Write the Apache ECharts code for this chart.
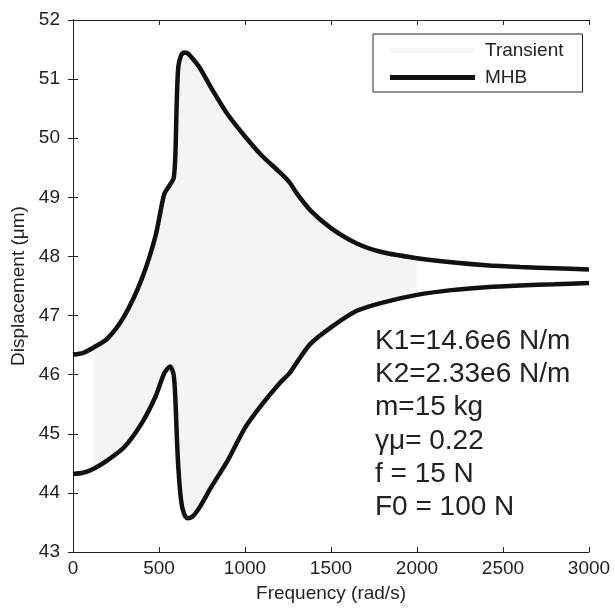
<!DOCTYPE html>
<html><head><meta charset="utf-8">
<script src="https://cdn.jsdelivr.net/npm/echarts@6/dist/echarts.min.js"></script>
<style>html,body{margin:0;padding:0;background:#fff}#c{width:615px;height:611px}</style>
</head><body><div id="c"></div>
<script>
// Frequency (rad/s)
const freq = [0, 60, 120, 200, 300, 400, 480, 530, 565, 585, 595, 603, 612, 628, 645, 665, 695, 735, 800, 900, 1000, 1100, 1200, 1260, 1300, 1380, 1500, 1650, 1800, 2000, 2200, 2400, 2600, 2800, 3000];
// MHB upper envelope (µm)
const mhbUpper = [46.34, 46.37, 46.46, 46.61, 47.0, 47.62, 48.35, 49.05, 49.22, 49.32, 49.7, 50.6, 51.2, 51.4, 51.45, 51.44, 51.35, 51.2, 50.87, 50.4, 50.03, 49.7, 49.43, 49.25, 49.07, 48.78, 48.48, 48.22, 48.07, 47.97, 47.9, 47.85, 47.82, 47.8, 47.78];
// MHB lower envelope (µm)
const mhbLower = [44.32, 44.34, 44.41, 44.55, 44.78, 45.18, 45.63, 46.02, 46.14, 46.0, 45.6, 45.0, 44.45, 43.88, 43.65, 43.57, 43.6, 43.75, 44.08, 44.55, 45.1, 45.5, 45.85, 46.03, 46.2, 46.52, 46.8, 47.08, 47.22, 47.35, 47.43, 47.48, 47.51, 47.53, 47.55];
// Transient sweep range (rad/s)
const transientRange = [120, 2000];
const xTicks = {min: 0, max: 3000, interval: 500};
const yTicks = {min: 43, max: 52, interval: 1};
const paramLines = ['K1=14.6e6 N/m', 'K2=2.33e6 N/m', 'm=15 kg', 'γμ= 0.22', 'f = 15 N', 'F0 = 100 N'];

const FONT = "'Liberation Sans', Arial, sans-serif";
const chart = echarts.init(document.getElementById('c'));
const axisCommon = {
  axisLine: {show: true, lineStyle: {color: '#222', width: 1}},
  axisTick: {show: true, inside: true, length: 5, lineStyle: {color: '#222'}},
  splitLine: {show: false}
};
const upperPts = freq.map((f, i) => [f, mhbUpper[i]]);
const lowerPts = freq.map((f, i) => [f, mhbLower[i]]);
const plain = v => String(v);

chart.setOption({
  animation: false,
  backgroundColor: '#fff',
  grid: {left: 73, right: 26, top: 20, bottom: 59},
  xAxis: [
    Object.assign({type: 'value', position: 'bottom', min: xTicks.min, max: xTicks.max, interval: xTicks.interval,
      name: 'Frequency (rad/s)', nameLocation: 'middle', nameGap: 32,
      nameTextStyle: {fontFamily: FONT, fontSize: 19, color: '#222'},
      axisLabel: {fontFamily: FONT, fontSize: 19, color: '#222', margin: 7, formatter: plain}}, axisCommon),
    Object.assign({type: 'value', position: 'top', min: xTicks.min, max: xTicks.max, interval: xTicks.interval,
      axisLabel: {show: false}}, axisCommon)
  ],
  yAxis: [
    Object.assign({type: 'value', position: 'left', min: yTicks.min, max: yTicks.max, interval: yTicks.interval,
      name: 'Displacement (μm)', nameLocation: 'middle', nameGap: 43,
      nameTextStyle: {fontFamily: FONT, fontSize: 19, color: '#222'},
      axisLabel: {fontFamily: FONT, fontSize: 19, color: '#222', margin: 13, formatter: plain}}, axisCommon),
    Object.assign({type: 'value', position: 'right', min: yTicks.min, max: yTicks.max, interval: yTicks.interval,
      axisLabel: {show: false}}, axisCommon)
  ],
  legend: {
    orient: 'vertical', left: 373, top: 34,
    padding: [7, 19, 5, 17], itemGap: 8, itemWidth: 85, itemHeight: 5,
    borderColor: '#222', borderWidth: 1, backgroundColor: '#fff',
    textStyle: {fontFamily: FONT, fontSize: 19, color: '#222', padding: [0, 0, 0, 5]},
    data: [
      {name: 'Transient', icon: 'rect', itemStyle: {color: '#f6f6f6'}},
      {name: 'MHB', icon: 'rect', itemStyle: {color: '#111'}}
    ]
  },
  series: [
    {
      name: 'Transient', type: 'custom', xAxisIndex: 0, yAxisIndex: 0,
      data: [[transientRange[0], mhbLower[0]]],
      itemStyle: {color: '#f3f4f5'},
      clip: true,
      renderItem: function (params, api) {
        const pts = [];
        for (let i = 0; i < freq.length; i++) {
          if (freq[i] >= transientRange[0] && freq[i] <= transientRange[1]) pts.push(api.coord([freq[i], mhbUpper[i]]));
        }
        for (let i = freq.length - 1; i >= 0; i--) {
          if (freq[i] >= transientRange[0] && freq[i] <= transientRange[1]) pts.push(api.coord([freq[i], mhbLower[i]]));
        }
        return {type: 'polygon', shape: {points: pts, smooth: 0}, style: {fill: '#f3f4f5', stroke: null}};
      },
      z: 1
    },
    {
      name: 'MHB', type: 'line', data: upperPts, showSymbol: false, smooth: 0.25,
      lineStyle: {color: '#111', width: 4.5}, itemStyle: {color: '#111'}, z: 3
    },
    {
      name: 'MHB', type: 'line', data: lowerPts, showSymbol: false, smooth: 0.25,
      lineStyle: {color: '#111', width: 4.5}, itemStyle: {color: '#111'}, z: 3
    }
  ],
  graphic: paramLines.map((t, i) => ({
    type: 'text', left: 375, top: 327 + i * 33.3, z: 10,
    style: {text: t, font: '28px ' + FONT, fill: '#222'}
  }))
});
</script></body></html>
